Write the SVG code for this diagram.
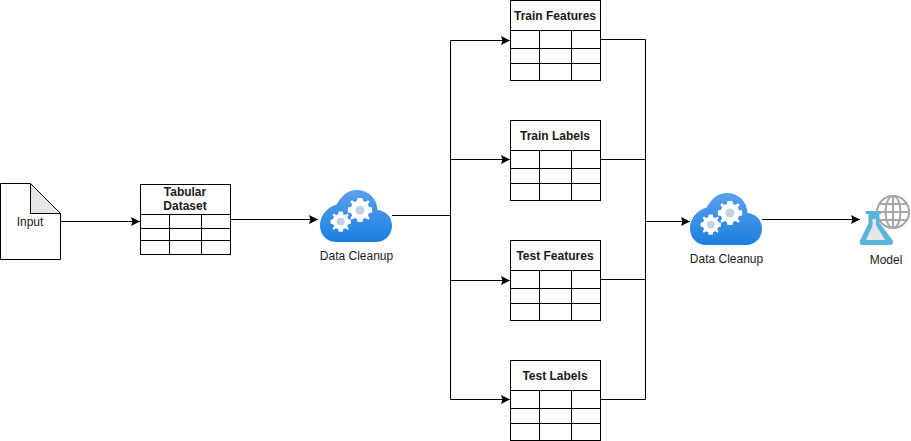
<svg xmlns="http://www.w3.org/2000/svg" xmlns:xlink="http://www.w3.org/1999/xlink" width="911" height="441" viewBox="0 0 911 441">
<style>
text{font-family:"Liberation Sans",Arial,sans-serif;font-size:12px;fill:#1a1a1a;text-anchor:middle}
.b{font-weight:bold}
.s{fill:#fff;stroke:#000;stroke-width:1}
.l{fill:none;stroke:#000;stroke-width:1}
.c{fill:none;stroke:#000;stroke-width:1}
</style>
<defs>
<marker id="a" markerUnits="userSpaceOnUse" markerWidth="11" markerHeight="11" refX="9" refY="5" orient="auto"><path d="M0 0.500L9 5L0 9.500L1.500 5Z" fill="#000"/></marker>
<linearGradient id="g" x1="0" y1="0" x2="0" y2="1"><stop offset="0" stop-color="#5ba0ea"/><stop offset="1" stop-color="#1a80e0"/></linearGradient>
<g id="gear"><path d="M-2.200-11H2.200L2.800-8.200L5-7.200L7.400-8.800L8.800-7.400L7.200-5L8.200-2.800L11-2.200V2.200L8.200 2.800L7.200 5L8.800 7.400L7.400 8.800L5 7.200L2.800 8.200L2.200 11H-2.200L-2.800 8.200L-5 7.200L-7.400 8.800L-8.800 7.400L-7.200 5L-8.200 2.800L-11 2.200V-2.200L-8.200-2.800L-7.200-5L-8.800-7.400L-7.400-8.800L-5-7.200L-2.800-8.200Z" fill="#fff"/><circle r="4.200" fill="#c3d2e2"/></g>
<g id="cloud"><path d="M16 52C7 52 0 45 0 35.500C0 25 7.500 17 16.700 14.500C21 6 28 0 37 0C48 0 57 8 57.500 20C66 21 72 27 72 35.500C72 45 65 52 56 52Z" fill="url(#g)"/><use xlink:href="#gear" transform="translate(40 20) scale(1.100)"/><use xlink:href="#gear" transform="translate(20.700 31.700) scale(0.920)"/></g>
</defs>
<g id="connectors">
<path class="c" d="M60.500 221.500H140" marker-end="url(#a)"/>
<path class="c" d="M230.500 219.500H318" marker-end="url(#a)"/>
<path class="c" d="M392 215.500H450.500"/>
<path class="c" d="M450.500 215.500V40.500H510" marker-end="url(#a)"/>
<path class="c" d="M450.500 215.500V159.500H510" marker-end="url(#a)"/>
<path class="c" d="M450.500 215.500V280.500H510" marker-end="url(#a)"/>
<path class="c" d="M450.500 215.500V399.500H510" marker-end="url(#a)"/>
<path class="c" d="M600.500 39.500H645.500V221.500"/>
<path class="c" d="M600.500 159.500H645.500V221.500"/>
<path class="c" d="M600.500 279.500H645.500V221.500"/>
<path class="c" d="M600.500 399.500H645.500V221.500"/>
<path class="c" d="M645.500 221.500H690" marker-end="url(#a)"/>
<path class="c" d="M762 219.500H860" marker-end="url(#a)"/>
</g>
<g id="input">
<path class="s" d="M0.500 183.500H30.500L60.500 213.500V259.500H0.500Z"/>
<path d="M30.500 183.500V213.500H60.500Z" fill="#e6e6e6" stroke="#000"/>
<text x="30" y="226">Input</text>
</g>
<g id="tabular-dataset">
<rect class="s" x="140.500" y="184.500" width="90" height="70"/>
<path class="l" d="M140.500 214.500H230.500M140.500 228.500H230.500M140.500 240.500H230.500M169.500 214.500V254.500M201.500 214.500V254.500"/>
<text class="b" x="185" y="196">Tabular</text>
<text class="b" x="185" y="210">Dataset</text>
</g>
<g id="cleanup-1">
<use xlink:href="#cloud" x="320" y="190"/>
<text x="356.500" y="260">Data Cleanup</text>
</g>
<g id="train-features">
<rect class="s" x="510.500" y="0.500" width="90" height="80"/>
<path class="l" d="M510.500 30.500H600.500M510.500 48.500H600.500M510.500 63.500H600.500M539.500 30.500V80.500M571.500 30.500V80.500"/>
<text class="b" x="555" y="20">Train Features</text>
</g>
<g id="train-labels">
<rect class="s" x="510.500" y="120.500" width="90" height="80"/>
<path class="l" d="M510.500 150.500H600.500M510.500 168.500H600.500M510.500 183.500H600.500M539.500 150.500V200.500M571.500 150.500V200.500"/>
<text class="b" x="555" y="140">Train Labels</text>
</g>
<g id="test-features">
<rect class="s" x="510.500" y="240.500" width="90" height="80"/>
<path class="l" d="M510.500 270.500H600.500M510.500 288.500H600.500M510.500 303.500H600.500M539.500 270.500V320.500M571.500 270.500V320.500"/>
<text class="b" x="555" y="260">Test Features</text>
</g>
<g id="test-labels">
<rect class="s" x="510.500" y="360.500" width="90" height="80"/>
<path class="l" d="M510.500 390.500H600.500M510.500 408.500H600.500M510.500 423.500H600.500M539.500 390.500V440.500M571.500 390.500V440.500"/>
<text class="b" x="555" y="380">Test Labels</text>
</g>
<g id="cleanup-2">
<use xlink:href="#cloud" x="690" y="193"/>
<text x="726.500" y="263">Data Cleanup</text>
</g>
<g id="model">
<g fill="none" stroke="#a6a6a6" stroke-width="2"><circle cx="893" cy="212" r="16"/><ellipse cx="893" cy="212" rx="7.500" ry="16"/><path d="M893 196V228M877 212H909M879 204H907M879 220H907"/></g>
<path d="M866 211H881V214H879.500V223L892.500 240C894 243 892.500 245 889.500 245H863C860 245 858.800 243 860.300 240L868.500 223V214H866Z" fill="#59b4d9"/>
<path d="M872.500 219H876V225L885 240H866L872.500 226Z" fill="#e6e6e6"/>
<text x="886" y="264">Model</text>
</g>
</svg>
